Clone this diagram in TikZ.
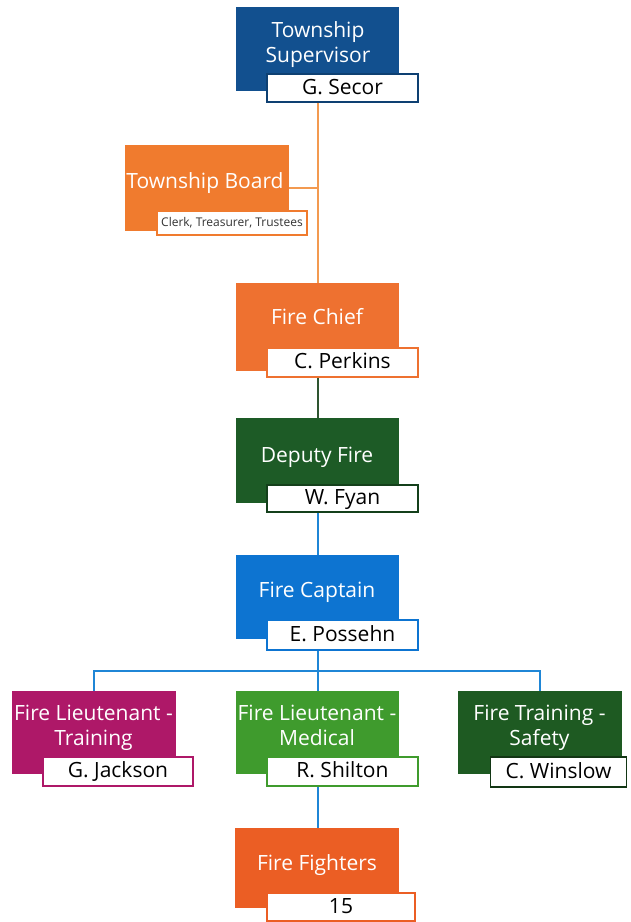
\documentclass[tikz,border=0pt]{standalone}
\usepackage{fontspec}
\setmainfont{Open Sans}
\definecolor{cSup}{HTML}{12508F}
\definecolor{cBoard}{HTML}{F07B2E}
\definecolor{cChief}{HTML}{EE7130}
\definecolor{cDep}{HTML}{1D5B26}
\definecolor{cCap}{HTML}{0D74D1}
\definecolor{cLtA}{HTML}{AE1868}
\definecolor{cLtB}{HTML}{3F9B2D}
\definecolor{cLtC}{HTML}{1E5A22}
\definecolor{cFF}{HTML}{EB5E24}
\definecolor{lOrange}{HTML}{F39A50}
\definecolor{lGreen}{HTML}{2E5530}
\definecolor{lBlue}{HTML}{1F86D6}
\begin{document}
\begin{tikzpicture}[x=1pt,y=-1pt,
  rolebox/.style={draw=#1,fill=#1,line width=1pt,inner sep=0pt},
  namebox/.style={draw=#1,fill=white,line width=1.5pt,inner sep=0pt,
    text=black,font=\fontsize{21}{24}\selectfont,text height=14.5pt,text depth=2pt},
  title/.style={text=white,font=\fontsize{21}{25}\selectfont,align=center,inner sep=0pt},
  conn/.style={line width=2pt,draw=#1}]
\useasboundingbox (0,0) rectangle (630,922);
\coordinate (spine) at (318,0);
\coordinate (bar) at (318,671);

% Township Supervisor
\node[rolebox=cSup,minimum width=162pt,minimum height=83pt] (sup) at (317,48.5) {};
\node[title] (supt) at (318,44.5) {Township\\Supervisor};
\node[namebox=cSup!80!black,minimum width=151pt,minimum height=28pt] (supn) at (342.5,88) {G. Secor};

% Township Board
\node[rolebox=cBoard,minimum width=163pt,minimum height=85pt] (board) at (206.5,187.5) {};
\node[title,anchor=base] (boardt) at (205,188) {Township Board};
\node[draw=cBoard,fill=white,line width=1.2pt,inner sep=0pt,minimum width=150pt,minimum height=24pt,
  font=\fontsize{12}{14}\selectfont,text=black!80] (boardn) at (232,223) {Clerk, Treasurer, Trustees};

% Fire Chief
\node[rolebox=cChief,minimum width=162pt,minimum height=87pt] (chief) at (317,326.5) {};
\node[title,anchor=base] (chieft) at (317,324) {Fire Chief};
\node[namebox=cChief,minimum width=151pt,minimum height=29pt] (chiefn) at (342.5,362.5) {C. Perkins};

% Deputy Fire
\node[rolebox=cDep,minimum width=162pt,minimum height=84pt] (dep) at (317,460) {};
\node[title,anchor=base] (dept) at (317,462) {Deputy Fire};
\node[namebox=cDep!70!black,minimum width=151pt,minimum height=27pt] (depn) at (342.5,498.5) {W. Fyan};

% Fire Captain
\node[rolebox=cCap,minimum width=162pt,minimum height=83pt] (cap) at (317,596.5) {};
\node[title,anchor=base] (capt) at (317,597) {Fire Captain};
\node[namebox=cCap,minimum width=151pt,minimum height=30pt] (capn) at (342.5,635) {E. Possehn};

% Lieutenants
\node[rolebox=cLtA,minimum width=163pt,minimum height=82pt] (lta) at (93.5,732) {};
\node[title] (ltat) at (93.5,727.5) {Fire Lieutenant -\\Training\vphantom{y}};
\node[namebox=cLtA,minimum width=150pt,minimum height=29pt] (ltan) at (118,771.5) {G. Jackson};

\node[rolebox=cLtB,minimum width=162pt,minimum height=82pt] (ltb) at (317,732) {};
\node[title] (ltbt) at (317,727.5) {Fire Lieutenant -\\Medical\vphantom{y}};
\node[namebox=cLtB,minimum width=151pt,minimum height=29pt] (ltbn) at (342.5,771.5) {R. Shilton};

\node[rolebox=cLtC,minimum width=163pt,minimum height=82pt] (ltc) at (539.5,732) {};
\node[title] (ltct) at (539.5,727.5) {Fire Training -\\Safety};
\node[namebox=cLtC!60!black,minimum width=136pt,minimum height=30pt] (ltcn) at (558.5,772) {C. Winslow};

% Fire Fighters
\node[rolebox=cFF,minimum width=163pt,minimum height=79pt] (ff) at (316.5,867.5) {};
\node[title,anchor=base] (fft) at (317,870) {Fire Fighters};
\node[namebox=cFF,minimum width=148pt,minimum height=28pt] (ffn) at (341,907) {15};

% Connectors
\draw[conn=lOrange] (spine |- supn.south) -- (spine |- chief.north);
\draw[conn=lOrange] (board.east) -- (board.east -| spine);
\draw[conn=lGreen] (spine |- chiefn.south) -- (spine |- dep.north);
\draw[conn=lBlue] (spine |- depn.south) -- (spine |- cap.north);
\draw[conn=lBlue] (spine |- capn.south) -- (bar);
\draw[conn=lBlue] (lta.north) |- (bar) -| (ltc.north);
\draw[conn=lBlue] (bar) -- (spine |- ltb.north);
\draw[conn=lBlue] (spine |- ltbn.south) -- (spine |- ff.north);
\end{tikzpicture}
\end{document}
